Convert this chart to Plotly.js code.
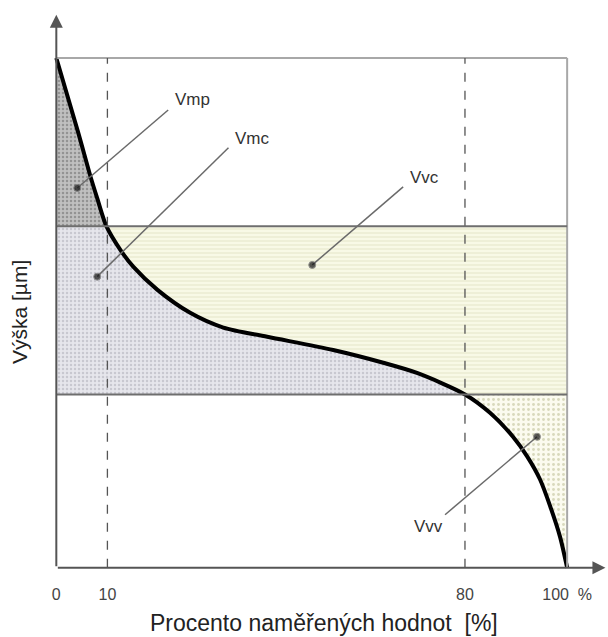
<!DOCTYPE html>
<html>
<head>
<meta charset="utf-8">
<script src="https://cdn.plot.ly/plotly-3.0.1.min.js"></script>
<style>html,body{margin:0;padding:0;background:#fff;}#chart{width:608px;height:637px;}</style>
</head>
<body>
<div id="chart"></div>
<script>
// Abbott-Firestone (bearing area) curve: height vs. percent of measured values
const curveX = [0, 4.3, 6.7, 8.0, 9.8, 12.5, 15.1, 19.8, 26.2, 32.7, 41.3, 54.2, 64, 70.6, 80, 84.9, 89.4, 92.2, 94.7, 96.7, 98.6, 100];
const curveY = [100, 85.3, 76.7, 72.5, 67, 62.4, 59.0, 54.5, 50.0, 47.1, 45.3, 42.7, 40.2, 38.2, 34, 30.4, 25.7, 21.8, 17.3, 12, 6.1, 0];
const upperLevel = 67;   // height at 10 %
const lowerLevel = 34;   // height at 80 %
const markX = [10, 80];
const tickVals = [0, 10, 80, 100];
const tickText = ['0', '10', '80', '100  %'];
const xTitle = 'Procento naměřených hodnot  [%]';
const yTitle = 'Výška [µm]';
const labelNames = ['Vmp', 'Vmc', 'Vvc', 'Vvv'];
const labelTextX = [22.9, 34.6, 68.9, 69.7];
const labelTextY = [91.8, 84.3, 76.5, 8.0];
const leaderEndX = [21.9, 33.7, 67.9, 76.1];
const leaderEndY = [89.8, 82.4, 74.7, 10.4];
const dotX = [4.1, 8.0, 50.1, 94.1];
const dotY = [74.5, 57.1, 59.4, 25.7];

// helper: points of the curve within a height band
function band(lo, hi) {
  const xs = [], ys = [];
  for (let i = 0; i < curveX.length; i++) {
    if (curveY[i] >= lo && curveY[i] <= hi) { xs.push(curveX[i]); ys.push(curveY[i]); }
  }
  return {xs, ys};
}
const bandTop = band(upperLevel, 100);
const bandMid = band(lowerLevel, upperLevel);
const bandLow = band(0, lowerLevel);

const splineLine = {width: 0, color: 'rgba(0,0,0,0)', shape: 'spline', smoothing: 0.8};
function pattern(bg, fg, shape, size, sol) {
  return {shape: shape, bgcolor: bg, fgcolor: fg, size: size, solidity: sol};
}
function edge(xs, ys) {   // invisible right-hand boundary used by 'tonextx'
  return {x: xs, y: ys, type: 'scatter', mode: 'lines', line: {width: 0, color: 'rgba(0,0,0,0)'},
    hoverinfo: 'skip', showlegend: false};
}
const traces = [];
// Vmp: between y-axis and curve, above upper level
traces.push({x: bandTop.xs, y: bandTop.ys, type: 'scatter', mode: 'lines', fill: 'tozerox', line: splineLine,
  fillcolor: '#c0c0c0', fillpattern: pattern('#c0c0c0', '#939393', '.', 4, 0.3), hoverinfo: 'skip', showlegend: false});
// Vmc: between y-axis and curve, between levels
traces.push({x: bandMid.xs, y: bandMid.ys, type: 'scatter', mode: 'lines', fill: 'tozerox', line: splineLine,
  fillcolor: '#e6e6ec', fillpattern: pattern('#e6e6ec', '#c8c8d0', '.', 4, 0.3), hoverinfo: 'skip', showlegend: false});
// Vvc: between curve and 100 %, between levels
traces.push(edge([100, 100], [upperLevel, lowerLevel]));
traces.push({x: bandMid.xs, y: bandMid.ys, type: 'scatter', mode: 'lines', fill: 'tonextx', line: splineLine,
  fillcolor: '#f8f9e6', fillpattern: pattern('#f8f9e6', '#e4e6c8', '-', 4, 0.25), hoverinfo: 'skip', showlegend: false});
// Vvv: between curve and 100 %, below lower level
traces.push(edge([100, 100], [lowerLevel, 0]));
traces.push({x: bandLow.xs, y: bandLow.ys, type: 'scatter', mode: 'lines', fill: 'tonextx', line: splineLine,
  fillcolor: '#fbfbef', fillpattern: pattern('#fbfbef', '#d8d9bc', '.', 5, 0.25), hoverinfo: 'skip', showlegend: false});

// curve
traces.push({x: curveX, y: curveY, type: 'scatter', mode: 'lines',
  line: {color: '#000', width: 4, shape: 'spline', smoothing: 0.8}, hoverinfo: 'skip', showlegend: false});

// leader lines with dots
for (let i = 0; i < labelNames.length; i++) {
  traces.push({x: [dotX[i], leaderEndX[i]], y: [dotY[i], leaderEndY[i]], type: 'scatter', mode: 'lines+markers',
    line: {color: '#6a6a6a', width: 1.5}, marker: {color: '#111', size: [7, 0]},
    hoverinfo: 'skip', showlegend: false, cliponaxis: false});
}

const shapes = [];
// frame: top and right
shapes.push({type: 'line', xref: 'x', yref: 'y', x0: 0, x1: 100, y0: 100, y1: 100, line: {color: '#a8a8a8', width: 2}});
shapes.push({type: 'line', xref: 'x', yref: 'y', x0: 100, x1: 100, y0: 0, y1: 100, line: {color: '#a8a8a8', width: 2}});
// band levels
[upperLevel, lowerLevel].forEach(v => shapes.push({type: 'line', xref: 'x', yref: 'y', x0: 0, x1: 100, y0: v, y1: v,
  line: {color: '#6e6e6e', width: 2}}));
// dashed verticals
markX.forEach(v => shapes.push({type: 'line', xref: 'x', yref: 'y', x0: v, x1: v, y0: 0, y1: 100,
  line: {color: '#555', width: 1.3, dash: 'dash'}}));

const annotations = [];
// axis arrows
annotations.push({x: 107.5, y: 0, ax: 0, ay: 0, xref: 'x', yref: 'y', axref: 'x', ayref: 'y', text: '',
  showarrow: true, arrowhead: 2, arrowsize: 1.3, arrowwidth: 2, arrowcolor: '#555', standoff: 0});
annotations.push({x: 0, y: 108.5, ax: 0, ay: 0, xref: 'x', yref: 'y', axref: 'x', ayref: 'y', text: '',
  showarrow: true, arrowhead: 2, arrowsize: 1.3, arrowwidth: 2, arrowcolor: '#555', standoff: 0});
// region labels
for (let i = 0; i < labelNames.length; i++) {
  annotations.push({x: labelTextX[i], y: labelTextY[i], xref: 'x', yref: 'y', text: labelNames[i],
    showarrow: false, xanchor: 'left', yanchor: 'middle', font: {size: 17, color: '#333'}});
}
// axis titles
annotations.push({xref: 'paper', yref: 'paper', x: (324 - 41) / 567, y: -(623 - 583) / 576, text: xTitle, showarrow: false,
  xanchor: 'center', yanchor: 'middle', font: {size: 23, color: '#222'}});
annotations.push({xref: 'paper', yref: 'paper', x: -(41 - 19) / 567, y: (583 - 312) / 576, text: yTitle, showarrow: false,
  textangle: -90, xanchor: 'center', yanchor: 'middle', font: {size: 21, color: '#222'}});

const layout = {
  width: 608, height: 637,
  margin: {l: 41, r: 0, t: 7, b: 54},
  paper_bgcolor: '#fff', plot_bgcolor: '#fff',
  font: {family: 'Liberation Sans, Arial, sans-serif', color: '#333'},
  showlegend: false,
  xaxis: {range: [-3, 108], showgrid: false, zeroline: false, showline: false,
    tickmode: 'array', tickvals: tickVals, ticktext: tickText, ticks: '', ticklen: 0,
    tickfont: {size: 16, color: '#444'}, fixedrange: true},
  yaxis: {range: [-3, 110], showgrid: false, zeroline: false, showline: false, showticklabels: false,
    ticks: '', fixedrange: true},
  shapes: shapes,
  annotations: annotations
};
Plotly.newPlot('chart', traces, layout, {displayModeBar: false, staticPlot: true});
</script>
</body>
</html>
